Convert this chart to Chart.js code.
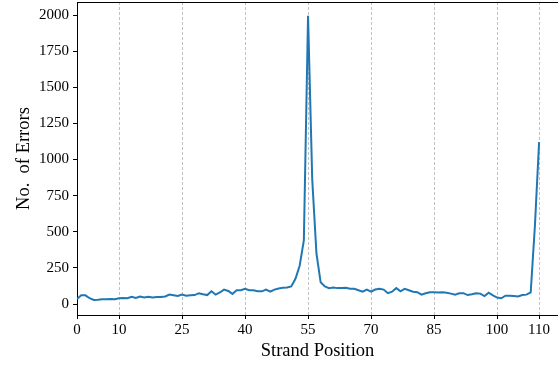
<!DOCTYPE html>
<html>
<head>
<meta charset="utf-8">
<script src="https://cdn.jsdelivr.net/npm/chart.js@4/dist/chart.umd.min.js"></script>
<style>
    html, body { margin: 0; padding: 0; background: #ffffff; overflow: hidden; }
    #grafico_erros { display: block; }
</style>
</head>
<body>
<canvas id="grafico_erros" width="558" height="365"></canvas>
<script>
// posicoes da fita (eixo x)
const posicoes = [
    0, 1, 2, 3, 4, 5, 6, 7, 8, 9,
    10, 11, 12, 13, 14, 15, 16, 17, 18, 19,
    20, 21, 22, 23, 24, 25, 26, 27, 28, 29,
    30, 31, 32, 33, 34, 35, 36, 37, 38, 39,
    40, 41, 42, 43, 44, 45, 46, 47, 48, 49,
    50, 51, 52, 53, 54, 55, 56, 57, 58, 59,
    60, 61, 62, 63, 64, 65, 66, 67, 68, 69,
    70, 71, 72, 73, 74, 75, 76, 77, 78, 79,
    80, 81, 82, 83, 84, 85, 86, 87, 88, 89,
    90, 91, 92, 93, 94, 95, 96, 97, 98, 99,
    100, 101, 102, 103, 104, 105, 106, 107, 108, 109,
    110
];

// numero de erros em cada posicao
const erros = [
    35, 60, 60, 40, 28, 30, 33, 33, 35, 33,
    40, 42, 40, 50, 42, 52, 45, 50, 45, 48,
    48, 52, 65, 60, 55, 65, 58, 60, 62, 75,
    68, 62, 88, 65, 80, 100, 90, 70, 95, 95,
    105, 95, 95, 88, 88, 100, 85, 100, 108, 112,
    115, 122, 175, 265, 440, 1995, 860, 350, 150, 122,
    110, 115, 110, 110, 112, 105, 105, 95, 85, 100,
    85, 100, 105, 100, 75, 85, 110, 88, 105, 95,
    85, 82, 65, 75, 82, 82, 80, 82, 78, 72,
    65, 75, 75, 62, 68, 75, 72, 55, 78, 60,
    45, 40, 58, 58, 55, 52, 62, 65, 80, 540,
    1120
];

const ticksX = [0, 10, 25, 40, 55, 70, 85, 100, 110];
const ticksY = [0, 250, 500, 750, 1000, 1250, 1500, 1750, 2000];

let pontos = [];
for (let i = 0; i < posicoes.length; i++) {
    pontos.push({ x: posicoes[i], y: erros[i] });
}

const fonteSerif = "'Liberation Serif', 'DejaVu Serif', serif";

// linha de cima do quadro (spine superior)
const bordaTopo = {
    id: "bordaTopo",
    afterDraw: function (chart) {
        let ctx = chart.ctx;
        let area = chart.chartArea;
        ctx.save();
        ctx.strokeStyle = "#000000";
        ctx.lineWidth = 1;
        ctx.beginPath();
        ctx.moveTo(area.left, area.top + 0.5);
        ctx.lineTo(area.right + 2, area.top + 0.5);
        ctx.stroke();
        ctx.restore();
    }
};

let ctxErros = document.getElementById("grafico_erros");

let graficoErros = new Chart(ctxErros, {
    type: "line",
    data: {
        datasets: [
            {
                label: "Erros",
                data: pontos,
                borderColor: "#1f77b4",
                borderWidth: 2,
                pointRadius: 0,
                tension: 0,
                fill: false
            }
        ]
    },
    options: {
        responsive: false,
        animation: false,
        devicePixelRatio: 1,
        layout: {
            padding: { left: 0, right: 0, top: 2, bottom: 0 }
        },
        plugins: {
            legend: { display: false },
            tooltip: { enabled: false }
        },
        scales: {
            x: {
                type: "linear",
                min: 0,
                max: 114.5,
                afterBuildTicks: function (escala) {
                    escala.ticks = ticksX.map(function (v) { return { value: v }; });
                },
                afterFit: function (escala) {
                    escala.height = 50;
                    escala.paddingLeft = 0;
                    escala.paddingRight = 0;
                },
                ticks: {
                    color: "#000000",
                    font: { family: fonteSerif, size: 15 },
                    padding: 2,
                    maxRotation: 0,
                    autoSkip: false,
                    callback: function (valor) {
                        return String(valor);
                    }
                },
                grid: {
                    display: true,
                    drawOnChartArea: true,
                    color: "#c0c0c0",
                    lineWidth: 1,
                    tickColor: "#000000",
                    tickLength: 4
                },
                border: {
                    display: true,
                    color: "#000000",
                    width: 1,
                    dash: [3, 2]
                },
                title: {
                    display: true,
                    text: "Strand Position",
                    color: "#000000",
                    font: { family: fonteSerif, size: 18.5 },
                    padding: { top: 0, bottom: 3 }
                }
            },
            y: {
                type: "linear",
                min: -76,
                max: 2090,
                afterBuildTicks: function (escala) {
                    escala.ticks = ticksY.map(function (v) { return { value: v }; });
                },
                afterFit: function (escala) {
                    escala.width = 77;
                    escala.paddingTop = 0;
                    escala.paddingBottom = 0;
                },
                ticks: {
                    color: "#000000",
                    font: { family: fonteSerif, size: 15 },
                    padding: 4,
                    callback: function (valor) {
                        return String(valor);
                    }
                },
                grid: {
                    display: true,
                    drawOnChartArea: false,
                    tickColor: "#000000",
                    tickLength: 4
                },
                border: {
                    display: true,
                    color: "#000000",
                    width: 1
                },
                title: {
                    display: true,
                    text: "No.  of Errors",
                    color: "#000000",
                    font: { family: fonteSerif, size: 18.5 },
                    padding: { top: 13, bottom: 0 }
                }
            }
        }
    },
    plugins: [bordaTopo]
});
</script>
</body>
</html>
